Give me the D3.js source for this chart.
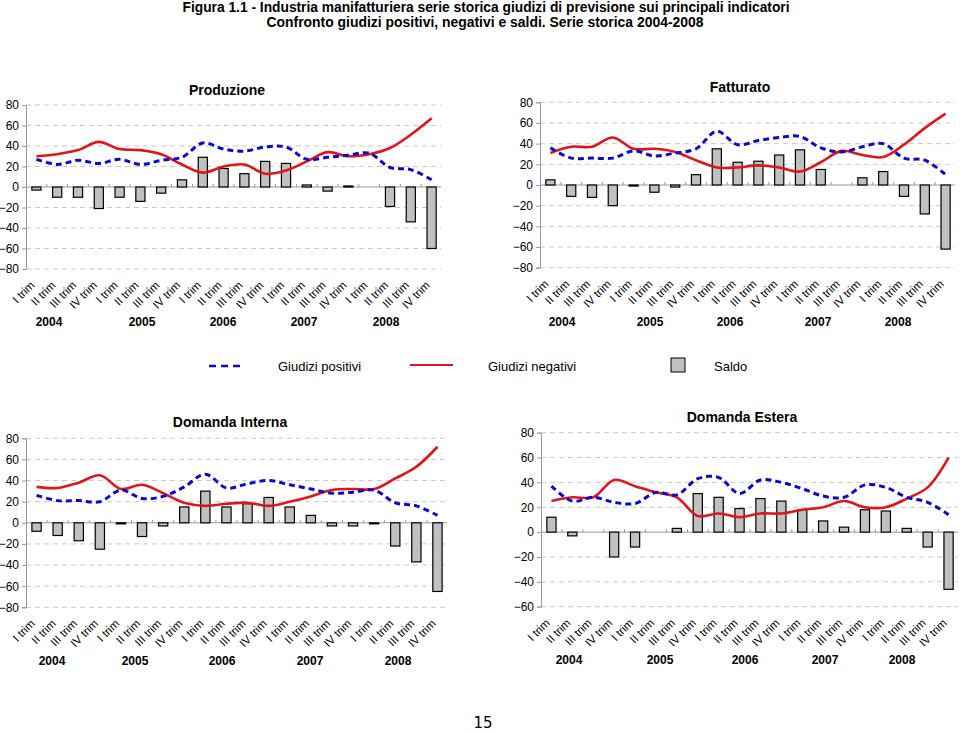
<!DOCTYPE html>
<html>
<head>
<meta charset="utf-8">
<script src="https://cdn.jsdelivr.net/npm/d3@7"></script>
<style>
  html, body { margin: 0; padding: 0; background: #fff; }
  svg { display: block; font-family: "Liberation Sans", Arial, sans-serif; }
</style>
</head>
<body>
<svg id="chart" width="960" height="731"></svg>
<script>
// ---------------- DATA ----------------
const quarters = ["I trim", "II trim", "III trim", "IV trim"];
const years = ["2004", "2005", "2006", "2007", "2008"];
const categories = years.flatMap(y => quarters.map(q => y + " " + q));

// Produzione
const prodPositivi = [27, 22, 26, 23, 27, 22, 26, 29, 43, 37, 35, 39, 39, 27, 29, 31, 33, 19, 17, 7];
const prodNegativi = [30, 32, 36, 44, 37, 36, 32, 22, 14, 20, 22, 13, 16, 25, 34, 30, 32, 38, 51, 67];
const prodSaldo    = [-3, -10, -10, -21, -10, -14, -6, 7, 29, 18, 13, 25, 23, 2, -4, 1, 0, -19, -34, -60];

// Fatturato
const fattPositivi = [36, 26, 26, 26, 33, 28, 31, 35, 52, 39, 43, 46, 47, 36, 32, 37, 40, 26, 24, 10];
const fattNegativi = [31, 37, 37, 46, 35, 35, 32, 24, 17, 17, 19, 17, 13, 22, 33, 29, 27, 39, 55, 69];
const fattSaldo    = [5, -11, -12, -20, -1, -7, -2, 10, 35, 22, 23, 29, 34, 15, 0, 7, 13, -11, -28, -62];

// Domanda Interna
const intPositivi = [26, 21, 21, 20, 31, 23, 25, 34, 46, 33, 37, 40, 36, 32, 28, 29, 31, 19, 16, 7];
const intNegativi = [34, 33, 38, 45, 32, 36, 28, 19, 16, 18, 19, 16, 20, 25, 31, 32, 32, 42, 53, 72];
const intSaldo    = [-8, -12, -17, -25, -1, -13, -3, 15, 30, 15, 18, 24, 15, 7, -3, -3, -1, -22, -37, -65];

// Domanda Estera
const estPositivi = [37, 25, 28, 24, 23, 32, 30, 43, 44, 31, 42, 40, 35, 29, 28, 38, 36, 28, 24, 14];
const estNegativi = [25, 28, 28, 42, 37, 32, 28, 13, 15, 12, 15, 15, 18, 20, 25, 20, 20, 27, 36, 60];
const estSaldo    = [12, -3, 0, -20, -12, 0, 3, 31, 28, 19, 27, 25, 18, 9, 4, 18, 17, 3, -12, -46];

const ticks80 = [80, 60, 40, 20, 0, -20, -40, -60, -80];
const ticks60 = [80, 60, 40, 20, 0, -20, -40, -60];

const titleLine1 = "Figura 1.1 - Industria manifatturiera serie storica giudizi di previsione sui principali indicatori";
const titleLine2 = "Confronto giudizi positivi, negativi e saldi. Serie storica 2004-2008";
const legendLabels = ["Giudizi positivi", "Giudizi negativi", "Saldo"];
const pageNumber = "15";

// ---------------- LAYOUT ----------------
const BLUE = "#0a0acc", RED = "#e0141a", BAR = "#c0c0c0";

const panels = [
  { title: "Produzione", pos: prodPositivi, neg: prodNegativi, saldo: prodSaldo, ticks: ticks80,
    x0: 26, x1: 442, yTop: 105, yBot: 269, dom: [-80, 80], tx: 227, ty: 95, yearY: 326,
    yearX: [49, 142, 223, 304, 386] },
  { title: "Fatturato", pos: fattPositivi, neg: fattNegativi, saldo: fattSaldo, ticks: ticks80,
    x0: 540, x1: 956, yTop: 102.3, yBot: 267.7, dom: [-80, 80], tx: 740, ty: 92, yearY: 326,
    yearX: [562, 650, 730, 818, 898] },
  { title: "Domanda Interna", pos: intPositivi, neg: intNegativi, saldo: intSaldo, ticks: ticks80,
    x0: 26, x1: 448, yTop: 438.3, yBot: 607.3, dom: [-80, 80], tx: 230, ty: 427, yearY: 665,
    yearX: [52, 135, 222, 310, 398] },
  { title: "Domanda Estera", pos: estPositivi, neg: estNegativi, saldo: estSaldo, ticks: ticks60,
    x0: 541, x1: 959, yTop: 432.7, yBot: 606.7, dom: [-60, 80], tx: 742, ty: 422, yearY: 664,
    yearX: [569, 660, 745, 825, 902] }
];

const svg = d3.select("#chart");

// Main title
svg.append("text").attr("x", 486).attr("y", 12).attr("text-anchor", "middle")
  .attr("font-weight", "bold").attr("font-size", 14)
  .attr("textLength", 607).attr("lengthAdjust", "spacingAndGlyphs")
  .text(titleLine1);
svg.append("text").attr("x", 485).attr("y", 27).attr("text-anchor", "middle")
  .attr("font-weight", "bold").attr("font-size", 14)
  .attr("textLength", 437).attr("lengthAdjust", "spacingAndGlyphs")
  .text(titleLine2);

function drawPanel(p) {
  const g = svg.append("g");
  const x = d3.scaleBand().domain(categories).range([p.x0, p.x1]);
  const y = d3.scaleLinear().domain(p.dom).range([p.yBot, p.yTop]);
  const bw = x.bandwidth();
  const cx = d => x(d) + bw / 2;

  // grid lines
  g.selectAll(".grid").data(p.ticks.filter(t => t !== 0)).join("line")
    .attr("x1", p.x0).attr("x2", p.x1 - 1)
    .attr("y1", d => y(d)).attr("y2", d => y(d))
    .attr("stroke", "#c8c8c8").attr("stroke-width", 1).attr("stroke-dasharray", "5,4");

  // y axis
  const yAxis = d3.axisLeft(y).tickValues(p.ticks).tickSize(4).tickPadding(3);
  const ya = g.append("g").attr("transform", `translate(${p.x0},0)`).call(yAxis);
  ya.select(".domain").attr("stroke", "#999");
  ya.selectAll(".tick line").attr("stroke", "#999");
  ya.selectAll(".tick text").attr("font-size", 12).attr("fill", "#000")
    .attr("font-family", "Liberation Sans, Arial, sans-serif");

  // zero axis with band ticks
  g.append("line").attr("x1", p.x0).attr("x2", p.x1 - 1)
    .attr("y1", y(0)).attr("y2", y(0)).attr("stroke", "#999");
  g.selectAll(".zt").data(categories.slice(1)).join("line")
    .attr("x1", d => x(d)).attr("x2", d => x(d))
    .attr("y1", y(0) - 3).attr("y2", y(0))
    .attr("stroke", "#999");

  // bars
  const barW = bw * 0.44;
  g.selectAll(".bar").data(p.saldo.map((v, i) => ({ c: categories[i], v })))
    .join("rect")
    .filter(d => d.v !== 0)
    .attr("x", d => cx(d.c) - barW / 2)
    .attr("y", d => y(Math.max(0, d.v)))
    .attr("width", barW)
    .attr("height", d => Math.abs(y(d.v) - y(0)))
    .attr("fill", BAR).attr("stroke", "#000").attr("stroke-width", 1.2);

  // lines
  const line = d3.line().x((d, i) => cx(categories[i])).y(d => y(d)).curve(d3.curveCatmullRom.alpha(0.5));
  g.append("path").attr("d", line(p.neg)).attr("fill", "none")
    .attr("stroke", RED).attr("stroke-width", 2.6);
  g.append("path").attr("d", line(p.pos)).attr("fill", "none")
    .attr("stroke", BLUE).attr("stroke-width", 3).attr("stroke-dasharray", "6,4");

  // category labels
  g.selectAll(".cl").data(categories).join("text")
    .attr("transform", d => `translate(${cx(d) - 1},${p.yBot + 17}) rotate(-45)`)
    .attr("text-anchor", "end").attr("font-size", 11.5).attr("fill", "#000")
    .text((d, i) => quarters[i % 4]);

  // year labels
  g.selectAll(".yl").data(years).join("text")
    .attr("x", (d, i) => p.yearX[i]).attr("y", p.yearY)
    .attr("text-anchor", "middle").attr("font-size", 12).attr("font-weight", "bold")
    .text(d => d);

  // panel title
  g.append("text").attr("x", p.tx).attr("y", p.ty).attr("text-anchor", "middle")
    .attr("font-size", 14).attr("font-weight", "bold").text(p.title);
}
panels.forEach(drawPanel);

// Legend
const lg = svg.append("g");
lg.append("line").attr("x1", 209).attr("x2", 241).attr("y1", 366).attr("y2", 366)
  .attr("stroke", BLUE).attr("stroke-width", 2.5).attr("stroke-dasharray", "7,5");
lg.append("text").attr("x", 278).attr("y", 371).attr("font-size", 13).text(legendLabels[0]);
lg.append("line").attr("x1", 410).attr("x2", 453).attr("y1", 365).attr("y2", 365)
  .attr("stroke", RED).attr("stroke-width", 2);
lg.append("text").attr("x", 488).attr("y", 371).attr("font-size", 13).text(legendLabels[1]);
lg.append("rect").attr("x", 671).attr("y", 358).attr("width", 14).attr("height", 14)
  .attr("fill", BAR).attr("stroke", "#000").attr("stroke-width", 1);
lg.append("text").attr("x", 714).attr("y", 371).attr("font-size", 13).text(legendLabels[2]);

// page number
svg.append("text").attr("x", 483).attr("y", 728).attr("text-anchor", "middle")
  .attr("font-size", 15).attr("font-family", "DejaVu Sans, Verdana, sans-serif").text(pageNumber);
</script>
</body>
</html>
